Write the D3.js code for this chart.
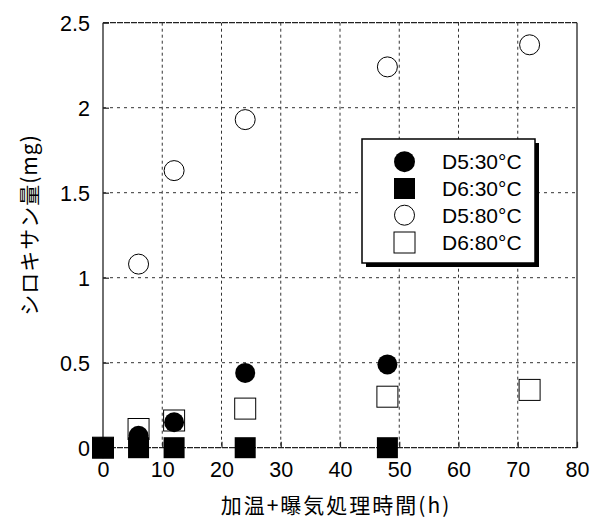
<!DOCTYPE html>
<html><head><meta charset="utf-8">
<script src="https://cdn.jsdelivr.net/npm/d3@7/dist/d3.min.js"></script>
<style>body{margin:0;background:#fff}svg{display:block}</style>
</head><body><svg id="c" width="598" height="518"></svg>
<script>
const hours = [0, 6, 12, 24, 48, 72];
const d5_30 = [0, 0.07, 0.15, 0.44, 0.49, null];
const d6_30 = [0, 0, 0, 0, 0, null];
const d5_80 = [0, 1.08, 1.63, 1.93, 2.24, 2.37];
const d6_80 = [0, 0.11, 0.16, 0.23, 0.30, 0.34];
const seriesNames = ["D5:30°C", "D6:30°C", "D5:80°C", "D6:80°C"];
const xTicks = [0, 10, 20, 30, 40, 50, 60, 70, 80];
const yTicks = [0, 0.5, 1, 1.5, 2, 2.5];
const yTickLabels = ["0", "0.5", "1", "1.5", "2", "2.5"];

const svg = d3.select("#c");
const L = 103, R = 577, T = 22.7, B = 447.7;
const x = d3.scaleLinear().domain([0, 80]).range([L, R]);
const y = d3.scaleLinear().domain([0, 2.5]).range([B, T]);
const font = "'Liberation Sans', Arial, Helvetica, sans-serif";
const jfont = "'Noto Sans CJK JP', 'Noto Sans CJK SC', sans-serif";

// grid
const g = svg.append("g");
g.selectAll(".vg").data(xTicks.slice(1, -1)).join("line")
  .attr("x1", d => x(d)).attr("x2", d => x(d)).attr("y1", T).attr("y2", B)
  .attr("stroke", "#333").attr("stroke-width", 1).attr("stroke-dasharray", "3,3");
g.selectAll(".hg").data(yTicks.slice(1, -1)).join("line")
  .attr("x1", L).attr("x2", R).attr("y1", d => y(d)).attr("y2", d => y(d))
  .attr("stroke", "#333").attr("stroke-width", 1).attr("stroke-dasharray", "3,4");

// frame
g.append("line").attr("x1", L).attr("x2", R).attr("y1", T).attr("y2", T)
  .attr("stroke", "#222").attr("stroke-width", 1.3).attr("stroke-dasharray", "6,1");
g.append("line").attr("x1", L).attr("x2", R).attr("y1", B).attr("y2", B)
  .attr("stroke", "#222").attr("stroke-width", 1.3).attr("stroke-dasharray", "6,1");
g.append("line").attr("x1", L).attr("x2", L).attr("y1", T).attr("y2", B)
  .attr("stroke", "#222").attr("stroke-width", 1.3);
g.append("line").attr("x1", R).attr("x2", R).attr("y1", T).attr("y2", B)
  .attr("stroke", "#222").attr("stroke-width", 1.3);

// axes (ticks inward)
const xAxis = d3.axisBottom(x).tickValues(xTicks).tickSize(-6).tickPadding(14).tickFormat(d3.format("d"));
const yAxis = d3.axisLeft(y).tickValues(yTicks).tickSize(-6).tickPadding(13).tickFormat((d, i) => yTickLabels[i]);
const xa = svg.append("g").attr("transform", `translate(0,${B})`).call(xAxis);
const ya = svg.append("g").attr("transform", `translate(${L},0)`).call(yAxis);
[xa, ya].forEach(a => {
  a.select(".domain").remove();
  a.selectAll(".tick line").attr("stroke", "#222").attr("stroke-width", 1.2);
  a.selectAll("text").attr("font-family", font).attr("font-size", 21.5).attr("fill", "#000");
});
ya.selectAll("text").attr("dy", "0.36em");

// data marks
const r = 10, s = 21;
function pts(vals) { return hours.map((h, i) => ({h, v: vals[i]})).filter(d => d.v !== null); }
const m = svg.append("g");
m.selectAll(".os").data(pts(d6_80)).join("rect")
  .attr("x", d => x(d.h) - s / 2).attr("y", d => y(d.v) - s / 2).attr("width", s).attr("height", s)
  .attr("fill", "#fff").attr("stroke", "#000").attr("stroke-width", 1);
m.selectAll(".oc").data(pts(d5_80)).join("circle")
  .attr("cx", d => x(d.h)).attr("cy", d => y(d.v)).attr("r", r)
  .attr("fill", "#fff").attr("stroke", "#000").attr("stroke-width", 1);
m.selectAll(".fc").data(pts(d5_30)).join("circle")
  .attr("cx", d => x(d.h)).attr("cy", d => y(d.v)).attr("r", r).attr("fill", "#000");
m.selectAll(".fs").data(pts(d6_30)).join("rect")
  .attr("x", d => x(d.h) - s / 2).attr("y", d => y(d.v) - s / 2).attr("width", s).attr("height", s)
  .attr("fill", "#000");

// legend
const lg = svg.append("g");
const lx = 362, ly = 139, lw = 173, lh = 124;
lg.append("rect").attr("x", lx + 4).attr("y", ly + 4).attr("width", lw).attr("height", lh).attr("fill", "#000");
lg.append("rect").attr("x", lx).attr("y", ly).attr("width", lw).attr("height", lh)
  .attr("fill", "#fff").attr("stroke", "#000").attr("stroke-width", 1.5);
const rowY = [161.7, 188.5, 215.2, 242.5];
const sx = 404.5;
lg.append("circle").attr("cx", sx).attr("cy", rowY[0]).attr("r", 10.5).attr("fill", "#000");
lg.append("rect").attr("x", sx - 10.5).attr("y", rowY[1] - 10.5).attr("width", 21).attr("height", 21).attr("fill", "#000");
lg.append("circle").attr("cx", sx).attr("cy", rowY[2]).attr("r", 10).attr("fill", "#fff").attr("stroke", "#000").attr("stroke-width", 1);
lg.append("rect").attr("x", sx - 10.5).attr("y", rowY[3] - 10.5).attr("width", 21).attr("height", 21).attr("fill", "#fff").attr("stroke", "#000").attr("stroke-width", 1);
lg.selectAll(".lt").data(seriesNames).join("text")
  .attr("x", 442).attr("y", (d, i) => rowY[i] + 7.5)
  .attr("font-family", font).attr("font-size", 21).attr("fill", "#000").text(d => d);

// axis titles
svg.append("text").attr("x", 336).attr("y", 513).attr("text-anchor", "middle")
  .attr("font-family", jfont).attr("font-size", 21).attr("letter-spacing", "2px").attr("fill", "#000")
  .text("加温+曝気処理時間(h)");
svg.append("text").attr("transform", "translate(37,225) rotate(-90)").attr("text-anchor", "middle")
  .attr("font-family", jfont).attr("font-size", 21).attr("letter-spacing", "1px").attr("fill", "#000")
  .text("シロキサン量(mg)");
</script></body></html>
